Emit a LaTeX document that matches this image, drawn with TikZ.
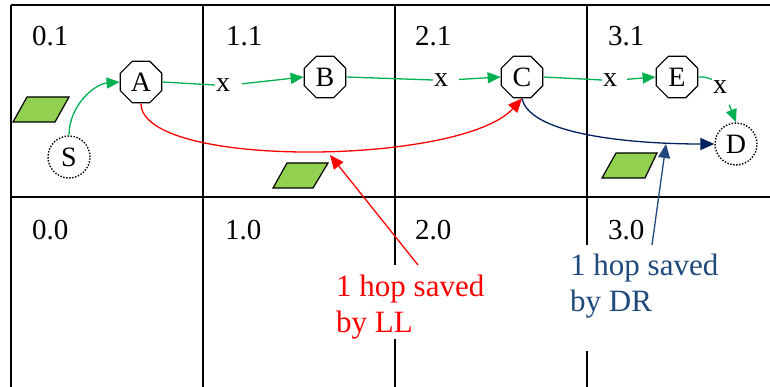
\documentclass[tikz,border=0pt]{standalone}
\usepackage{fontspec}
\setmainfont{Liberation Serif}
\usetikzlibrary{shapes.geometric,arrows.meta,calc}
\definecolor{gr}{HTML}{00B050}
\definecolor{park}{HTML}{92D050}
\definecolor{rd}{HTML}{FF0000}
\definecolor{navy}{HTML}{002060}
\definecolor{stb}{HTML}{1F497D}
\begin{document}
\begin{tikzpicture}[x=1pt,y=-1pt,
  gridline/.style={line width=1.6pt,black},
  celllbl/.style={anchor=base west,inner sep=0pt,font=\fontsize{29}{34}\selectfont},
  octo/.style={draw,line width=1.2pt,regular polygon,regular polygon sides=8,minimum size=45pt,inner sep=0pt,font=\fontsize{28}{32}\selectfont},
  endpt/.style={draw,line width=1.4pt,dash pattern=on 1.4pt off 1.6pt,circle,minimum size=42pt,inner sep=0pt,font=\fontsize{28}{32}\selectfont},
  xlbl/.style={inner sep=1pt,font=\fontsize{28}{32}\selectfont},
  gline/.style={gr,line width=1.3pt},
  garrow/.style={gr,line width=1.3pt,-{Triangle[length=13pt,width=11pt]}},
  parkbox/.style={draw=black,line width=1.2pt,fill=park},
  note/.style={anchor=north west,inner sep=0pt,fill=white,align=left,font=\fontsize{31}{36}\selectfont}
]
\useasboundingbox (0,0) rectangle (770,387);
% grid
\draw[gridline] (11,5) -- (770,5);
\draw[gridline] (11,197) -- (770,197);
\draw[gridline] (11,5) -- (11,387);
\draw[gridline] (203,5) -- (203,387);
\draw[gridline] (395,5) -- (395,387);
\draw[gridline] (587,5) -- (587,387);
% cell labels
\node[celllbl] (c01) at (32,46) {0.1};
\node[celllbl] (c11) at (226,46) {1.1};
\node[celllbl] (c21) at (415,46) {2.1};
\node[celllbl] (c31) at (608,46) {3.1};
\node[celllbl] (c00) at (32,240) {0.0};
\node[celllbl] (c10) at (225,240) {1.0};
\node[celllbl] (c20) at (415,240) {2.0};
\node[celllbl] (c30) at (608,240) {3.0};
% parking areas
\draw[parkbox] (13,122) -- (55,122) -- (69,97) -- (27,97) -- cycle;
\draw[parkbox] (273,188) -- (313,188) -- (328,163) -- (287,163) -- cycle;
\draw[parkbox] (602,178) -- (645,178) -- (657,153) -- (616,153) -- cycle;
% notes
\node[note,text=rd] (lltxt) at (336,265) {\rule{0pt}{31pt}1 hop saved\\by LL};
\node[note,text=stb] (drtxt) at (570,245) {\rule{0pt}{30pt}1 hop saved\\by DR\rule[-40pt]{0pt}{40pt}};
% nodes
\node[octo] (A) at (141,82) {A};
\node[octo] (B) at (325,77) {B};
\node[octo] (C) at (522,77) {C};
\node[octo] (E) at (677,77) {E};
\node[endpt] (S) at (69,157) {S};
\node[endpt] (D) at (736,144) {D};
\node[xlbl] (xab) at (223,85) {x};
\node[xlbl] (xbc) at (441,80) {x};
\node[xlbl] (xce) at (610,80) {x};
\node[xlbl] (xed) at (720,87) {x};
% green path
\draw[garrow] (S.north) .. controls ($(S.north)+(0,-30)$) and ($(A.west)+(-25,2)$) .. (A.west);
\draw[gline] (A.east) -- (xab.west);
\draw[garrow,shorten <=11pt] (xab.east) -- (B.west);
\draw[gline] (B.east) -- (xbc.west);
\draw[garrow,shorten <=10pt] (xbc.east) -- (C.west);
\draw[gline] (C.east) -- (xce.west);
\draw[garrow,shorten <=9pt] (xce.east) -- (E.west);
\draw[gline] (E.east) .. controls ($(E.east)+(7,0)$) .. (xed.north west);
\draw[garrow] ($(xed.south east)+(1,10)$) -- (D.north);
% LL shortcut
\draw[rd,line width=1.3pt,-{Triangle[length=14pt,width=12pt]}] (A.south) .. controls ($(A.south)+(0,66)$) and ($(C.south)+(-60,67)$) .. (C.south);
% DR shortcut
\draw[navy,line width=1.3pt,-{Triangle[length=14pt,width=12pt]}] (C.south) .. controls ($(C.south)+(8,38)$) and ($(D.west)+(-75,0)$) .. (D.west);
% annotation arrows
\coordinate (llhit) at (330,155);
\coordinate (drhit) at (666,144);
\draw[rd,line width=1.3pt,-{Triangle[length=14pt,width=12pt]}] ($(lltxt.north west)+(82,0)$) -- (llhit);
\draw[stb,line width=1.3pt,-{Triangle[length=14pt,width=12pt]}] ($(drtxt.north west)+(82,0)$) -- (drhit);
\end{tikzpicture}
\end{document}
